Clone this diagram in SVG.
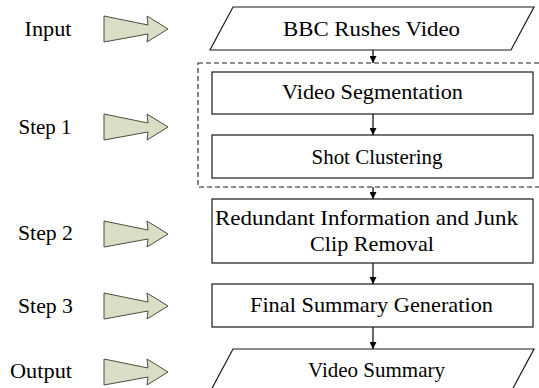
<svg xmlns="http://www.w3.org/2000/svg" width="539" height="388" viewBox="0 0 539 388">
<style>
.t{font-size:21px;fill:#000;}
.m{text-anchor:middle;}
.box{fill:#fff;stroke:#1a1a1a;stroke-width:1.2;}
.blk{fill:#d9dec6;stroke:#4d4d40;stroke-width:1;}
.con{stroke:#000;stroke-width:1.2;fill:none;}
.dash{fill:none;stroke:#1a1a1a;stroke-width:1.1;stroke-dasharray:5,3;}
</style>
<defs>
<marker id="ah" viewBox="0 0 10 10" refX="10" refY="5" markerWidth="7" markerHeight="7" markerUnits="userSpaceOnUse" orient="auto"><path d="M0,0 L10,5 L0,10 z" fill="#000"/></marker>
<path id="blk" d="M104,-13 L148,-4 L147,-13 L168,0 L147,13 L148,5 L104,13 Z"/>
</defs>
<g font-family="Times New Roman, Liberation Serif, Tinos, DejaVu Serif, serif">
<g id="labels">
<text class="t m" x="48" y="36" textLength="47" lengthAdjust="spacingAndGlyphs">Input</text>
<text class="t m" x="45" y="134" textLength="53" lengthAdjust="spacingAndGlyphs">Step 1</text>
<text class="t m" x="45.5" y="240" textLength="55" lengthAdjust="spacingAndGlyphs">Step 2</text>
<text class="t m" x="45.5" y="313" textLength="55" lengthAdjust="spacingAndGlyphs">Step 3</text>
<text class="t m" x="41" y="378" textLength="62" lengthAdjust="spacingAndGlyphs">Output</text>
</g>
<g id="block-arrows">
<use href="#blk" class="blk" transform="translate(0,29)"/>
<use href="#blk" class="blk" transform="translate(0,127)"/>
<use href="#blk" class="blk" transform="translate(0,234)"/>
<use href="#blk" class="blk" transform="translate(0,306)"/>
<use href="#blk" class="blk" transform="translate(0,372)"/>
</g>
<g id="step1-group">
<rect class="dash" x="198" y="63" width="345" height="124"/>
</g>
<g id="input">
<polygon class="box" points="233,7 534,7 511,50 210,50"/>
<text class="t m" x="371.5" y="36" textLength="177" lengthAdjust="spacingAndGlyphs">BBC Rushes Video</text>
</g>
<g id="video-segmentation">
<rect class="box" x="212" y="72" width="321" height="42"/>
<text class="t m" x="372.5" y="99" textLength="181" lengthAdjust="spacingAndGlyphs">Video Segmentation</text>
</g>
<g id="shot-clustering">
<rect class="box" x="212" y="135" width="321" height="43"/>
<text class="t m" x="377" y="164" textLength="131" lengthAdjust="spacingAndGlyphs">Shot Clustering</text>
</g>
<g id="redundant-removal">
<rect class="box" x="212" y="199" width="321" height="64"/>
<text class="t m" x="366.5" y="225" textLength="303" lengthAdjust="spacingAndGlyphs">Redundant Information and Junk</text>
<text class="t m" x="372" y="251" textLength="124" lengthAdjust="spacingAndGlyphs">Clip Removal</text>
</g>
<g id="final-summary">
<rect class="box" x="212" y="284" width="321" height="43"/>
<text class="t m" x="371.5" y="312" textLength="243" lengthAdjust="spacingAndGlyphs">Final Summary Generation</text>
</g>
<g id="output">
<polygon class="box" points="233,349 534,349 511,392 210,392"/>
<text class="t m" x="376.5" y="377" textLength="137" lengthAdjust="spacingAndGlyphs">Video Summary</text>
</g>
<g id="connectors">
<line class="con" x1="373" y1="50" x2="373" y2="63" marker-end="url(#ah)"/>
<line class="con" x1="373" y1="114" x2="373" y2="135" marker-end="url(#ah)"/>
<line class="con" x1="373" y1="187" x2="373" y2="199" marker-end="url(#ah)"/>
<line class="con" x1="373" y1="263" x2="373" y2="284" marker-end="url(#ah)"/>
<line class="con" x1="373" y1="327" x2="373" y2="349" marker-end="url(#ah)"/>
</g>
</g>
</svg>
